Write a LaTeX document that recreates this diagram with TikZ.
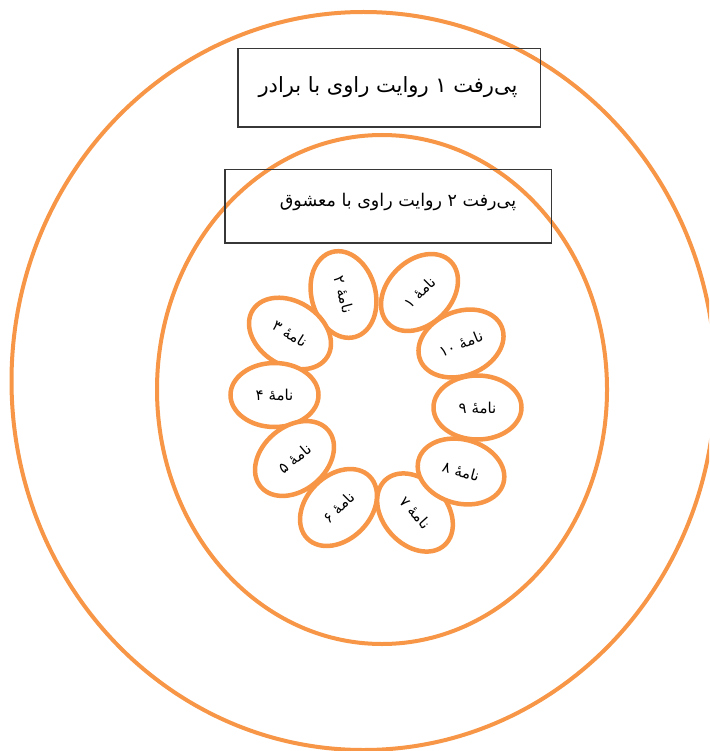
\documentclass[tikz,border=0pt]{standalone}
\usepackage{fontspec}
\usetikzlibrary{shapes.geometric}
\newfontfamily\fafont[Script=Arabic]{DejaVu Sans}
\TeXXeTstate=1
\definecolor{ringorange}{RGB}{247,150,70}
\definecolor{boxline}{RGB}{55,55,55}
\tikzset{
  ring/.style={ellipse, draw=ringorange, line width=4pt, inner sep=0pt},
  letterbox/.style={ellipse, draw=ringorange, line width=4.5pt, fill=white, inner sep=0pt,
    minimum width=88pt, minimum height=64pt, font=\fafont\fontsize{15}{17}\selectfont},
  panel/.style={draw=boxline, line width=1.2pt, inner sep=0pt},
  headtext/.style={inner sep=0pt, font=\fafont\fontsize{21}{24}\selectfont},
  subtext/.style={inner sep=0pt, font=\fafont\fontsize{17.5}{20}\selectfont}
}
\begin{document}
\begin{tikzpicture}[x=1pt,y=-1pt]
\useasboundingbox (0,0) rectangle (709,751);
\clip (0,0) rectangle (709,751);
% rings
\node[ring, minimum width=704pt, minimum height=738pt] (outer) at (363.5,381) {};
\node[ring, minimum width=450pt, minimum height=509pt] (inner) at (382,389.5) {};
% title boxes
\node[panel, minimum width=302.5pt, minimum height=78.5pt] (b1) at (389.25,87.75) {};
\node[headtext] (t1) at (388,87) {\beginR پی‌رفت ۱ روایت راوی با برادر\endR};
\node[panel, minimum width=326.5pt, minimum height=73.5pt] (b2) at (388.25,206.25) {};
\node[subtext] (t2) at (398,202) {\beginR پی‌رفت ۲ روایت راوی با معشوق\endR};
% letters
\node[letterbox, rotate=45] (n1) at (419.5,292.5) {\beginR نامهٔ ۱\endR};
\node[letterbox, rotate=-75] (n2) at (343.5,294.5) {\beginR نامهٔ ۲\endR};
\node[letterbox, rotate=-32] (n3) at (290,333.5) {\beginR نامهٔ ۳\endR};
\node[letterbox] (n4) at (274.5,395) {\beginR نامهٔ ۴\endR};
\node[letterbox, rotate=40] (n5) at (294.5,458.5) {\beginR نامهٔ ۵\endR};
\node[letterbox, rotate=45] (n6) at (338.5,507.5) {\beginR نامهٔ ۶\endR};
\node[letterbox, rotate=-48] (n7) at (415,512.5) {\beginR نامهٔ ۷\endR};
\node[letterbox, rotate=-15] (n8) at (461,471.5) {\beginR نامهٔ ۸\endR};
\node[letterbox] (n9) at (477.5,407.5) {\beginR نامهٔ ۹\endR};
\node[letterbox, rotate=22] (n10) at (461,343.5) {\beginR نامهٔ ۱۰\endR};
\end{tikzpicture}
\end{document}
